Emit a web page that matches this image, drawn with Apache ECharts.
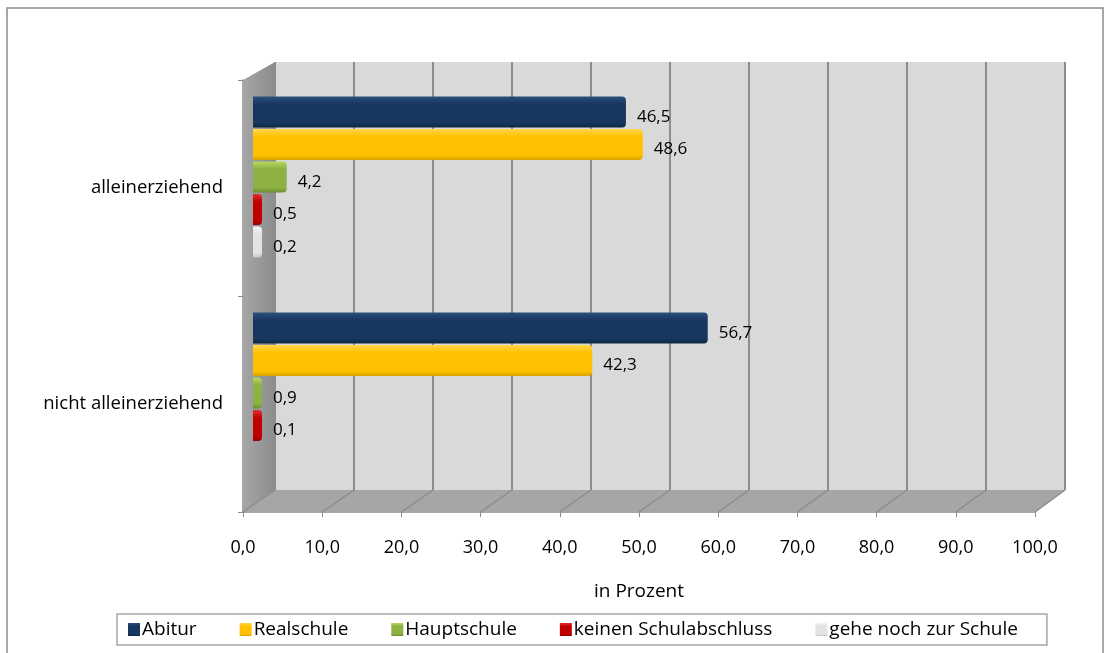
<!DOCTYPE html>
<html>
<head>
<meta charset="utf-8">
<script src="https://cdn.jsdelivr.net/npm/echarts@6/dist/echarts.min.js"></script>
<style>
  html, body { margin: 0; padding: 0; background: #fff; }
  #chart { width: 1110px; height: 653px; }
</style>
</head>
<body>
<div id="chart"></div>
<script>
// values
const categories = ['alleinerziehend', 'nicht alleinerziehend']
const abitur = [46.5, 56.7]
const realschule = [48.6, 42.3]
const hauptschule = [4.2, 0.9]
const keinAbschluss = [0.5, 0.1]
const nochSchule = [0.2, null]
const xTicks = [0, 10, 20, 30, 40, 50, 60, 70, 80, 90, 100]

const fmt = v => v.toFixed(1).replace('.', ',')
const font = '"Open Sans", sans-serif'

let chart = echarts.init(document.getElementById('chart'))

function grad(top, mid, bottom) {
    return new echarts.graphic.LinearGradient(0, 0, 0, 1, [
        { offset: 0, color: top },
        { offset: 0.25, color: mid },
        { offset: 0.85, color: mid },
        { offset: 1, color: bottom }
    ])
}

function bar(name, data, color) {
    return {
        name: name,
        type: 'bar',
        xAxisIndex: 1,
        yAxisIndex: 1,
        barWidth: 31,
        barGap: '5%',
        barMinHeight: 9,
        data: data,
        itemStyle: { color: color, borderRadius: [0, 4, 4, 0] },
        label: {
            show: true,
            position: 'right',
            distance: 11,
            offset: [0, 5],
            fontFamily: font,
            fontSize: 17,
            color: '#000',
            formatter: p => p.value == null ? '' : fmt(p.value)
        }
    }
}

// decoration: outer frame, side wall and floor of the 3d box
let deco = [
    {
        type: 'rect',
        shape: { x: 7, y: 8, width: 1096, height: 660 },
        style: { fill: 'none', stroke: '#8c8c8c', lineWidth: 1.5 },
        z: -10
    },
    {
        type: 'polygon',
        shape: { points: [[243, 80], [275, 62], [275, 490], [243, 512]] },
        style: {
            fill: new echarts.graphic.LinearGradient(0, 0, 1, 0, [
                { offset: 0, color: '#a6a6a6' },
                { offset: 1, color: '#8c8c8c' }
            ])
        },
        z: 1
    },
    {
        type: 'polygon',
        shape: { points: [[243, 512], [275, 490], [1065, 490], [1035, 512]] },
        style: { fill: '#a6a6a6' },
        z: 1
    }
]
xTicks.forEach((t, i) => {
    deco.push({
        type: 'line',
        shape: { x1: 243 + 79.2 * i, y1: 512, x2: 275 + 79 * i, y2: 490 },
        style: { stroke: '#8c8c8c', lineWidth: 1.5 },
        z: 2
    })
})

chart.setOption({
    animation: false,
    graphic: deco,
    legend: {
        left: 117,
        top: 614,
        itemWidth: 12,
        itemHeight: 13,
        itemGap: 43,
        icon: 'rect',
        borderColor: '#a6a6a6',
        borderWidth: 1.5,
        padding: [6, 29, 6, 11],
        textStyle: { fontFamily: font, fontSize: 19, color: '#000', padding: [0, 0, 0, -3] },
        data: ['Abitur', 'Realschule', 'Hauptschule', 'keinen Schulabschluss', 'gehe noch zur Schule']
    },
    grid: [
        // back wall
        { left: 275, right: 45, top: 62, bottom: 163, show: true, backgroundColor: '#d9d9d9', borderWidth: 0 },
        // bars
        { left: 253, right: 55, top: 69, bottom: 152 },
        // front axes
        { left: 243, right: 75, top: 80, bottom: 141 }
    ],
    xAxis: [
        {
            gridIndex: 0, type: 'value', min: 0, max: 100, interval: 10,
            axisLine: { show: false }, axisTick: { show: false }, axisLabel: { show: false },
            splitLine: { lineStyle: { color: '#8c8c8c', width: 2 } }
        },
        {
            gridIndex: 1, type: 'value', min: 0, max: 100, interval: 10, show: false,
            splitLine: { show: false }
        },
        {
            gridIndex: 2, type: 'value', min: 0, max: 100, interval: 10,
            axisLine: { show: true, lineStyle: { color: '#8c8c8c', width: 1.5 } },
            axisTick: { show: true, length: 5, lineStyle: { color: '#8c8c8c' } },
            axisLabel: { margin: 27, fontFamily: font, fontSize: 18, color: '#000', formatter: v => fmt(v) },
            splitLine: { show: false },
            name: 'in Prozent',
            nameLocation: 'middle',
            nameGap: 70,
            nameTextStyle: { fontFamily: font, fontSize: 19, color: '#000' }
        }
    ],
    yAxis: [
        { gridIndex: 0, type: 'category', data: categories, show: false },
        { gridIndex: 1, type: 'category', data: categories, inverse: true, show: false },
        {
            gridIndex: 2, type: 'category', data: categories, inverse: true,
            axisLine: { show: true, lineStyle: { color: '#8c8c8c', width: 1.5 } },
            axisTick: { show: true, length: 5, lineStyle: { color: '#8c8c8c' } },
            axisLabel: { margin: 20, fontFamily: font, fontSize: 18.5, color: '#000', padding: [4, 0, 0, 0] }
        }
    ],
    series: [
        bar('Abitur', abitur, grad('#2b4f7e', '#17375e', '#0f2742')),
        bar('Realschule', realschule, grad('#ffd84d', '#ffc000', '#d9a000')),
        bar('Hauptschule', hauptschule, grad('#b5d95e', '#8db143', '#6b8a30')),
        bar('keinen Schulabschluss', keinAbschluss, grad('#e03030', '#c00000', '#900000')),
        bar('gehe noch zur Schule', nochSchule, grad('#f4f4f4', '#e3e3e3', '#c8c8c8'))
    ]
})
</script>
</body>
</html>
